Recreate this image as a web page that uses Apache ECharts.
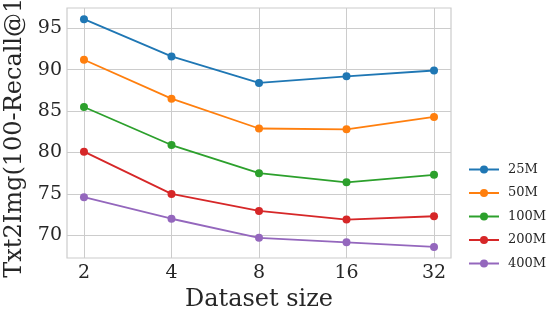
<!DOCTYPE html>
<html>
<head>
<meta charset="utf-8">
<script src="https://cdn.jsdelivr.net/npm/echarts@6/dist/echarts.min.js"></script>
<style>
html,body{margin:0;padding:0;background:#fff;}
#chart{width:557px;height:319px;}
</style>
</head>
<body>
<div id="chart"></div>
<script>
const categories = ['2', '4', '8', '16', '32'];
const seriesNames = ['25M', '50M', '100M', '200M', '400M'];
const s25M = [96.1, 91.6, 88.4, 89.2, 89.9];
const s50M = [91.2, 86.5, 82.9, 82.8, 84.3];
const s100M = [85.5, 80.9, 77.5, 76.4, 77.3];
const s200M = [80.1, 75.0, 72.95, 71.9, 72.3];
const s400M = [74.6, 72.0, 69.7, 69.15, 68.6];
const yTicks = [70, 75, 80, 85, 90, 95];
const colors = ['#1f77b4', '#ff7f0e', '#2ca02c', '#d62728', '#9467bd'];

const allSeries = [s25M, s50M, s100M, s200M, s400M];
const xPos = categories.map((c, i) => i + 1);
const font = 'DejaVu Serif';
const textColor = '#262626';

const chart = echarts.init(document.getElementById('chart'), null, {renderer: 'canvas'});
chart.setOption({
  animation: false,
  backgroundColor: '#fff',
  color: colors,
  grid: {left: 67, right: 106, top: 8, bottom: 61, containLabel: false, outerBoundsMode: 'none', show: true, borderColor: '#cccccc', borderWidth: 1.2, backgroundColor: 'transparent'},
  xAxis: {
    type: 'value',
    min: 0.806, max: 5.194,
    name: 'Dataset size',
    nameLocation: 'middle',
    nameGap: 26,
    nameTextStyle: {fontFamily: font, fontSize: 24, color: textColor},
    axisLine: {show: false},
    axisTick: {show: false, customValues: xPos},
    axisLabel: {customValues: xPos, formatter: v => categories[Math.round(v) - 1], fontFamily: font, fontSize: 19, color: textColor, margin: 6},
    splitLine: {show: true, lineStyle: {color: '#cccccc', width: 1}}
  },
  yAxis: {
    type: 'value',
    min: 67.26, max: 97.45,
    name: 'Txt2Img(100-Recall@1)',
    nameLocation: 'middle',
    nameGap: 35,
    nameTextStyle: {fontFamily: font, fontSize: 24, color: textColor},
    axisLine: {show: false},
    axisTick: {show: false, customValues: yTicks},
    axisLabel: {customValues: yTicks, fontFamily: font, fontSize: 19, color: textColor, margin: 5},
    splitLine: {show: true, lineStyle: {color: '#cccccc', width: 1}}
  },
  legend: {
    orient: 'vertical',
    left: 463, top: 158,
    itemWidth: 30, itemHeight: 10, itemGap: 10.5,
    textStyle: {fontFamily: font, fontSize: 13, color: textColor, padding: [0, 0, 0, 4]},
    data: seriesNames
  },
  series: seriesNames.map((n, k) => ({
    name: n,
    type: 'line',
    data: allSeries[k].map((v, i) => [xPos[i], v]),
    symbol: 'circle',
    symbolSize: 8,
    lineStyle: {width: 1.8, color: colors[k]},
    itemStyle: {color: colors[k]}
  }))
});
</script>
</body>
</html>
